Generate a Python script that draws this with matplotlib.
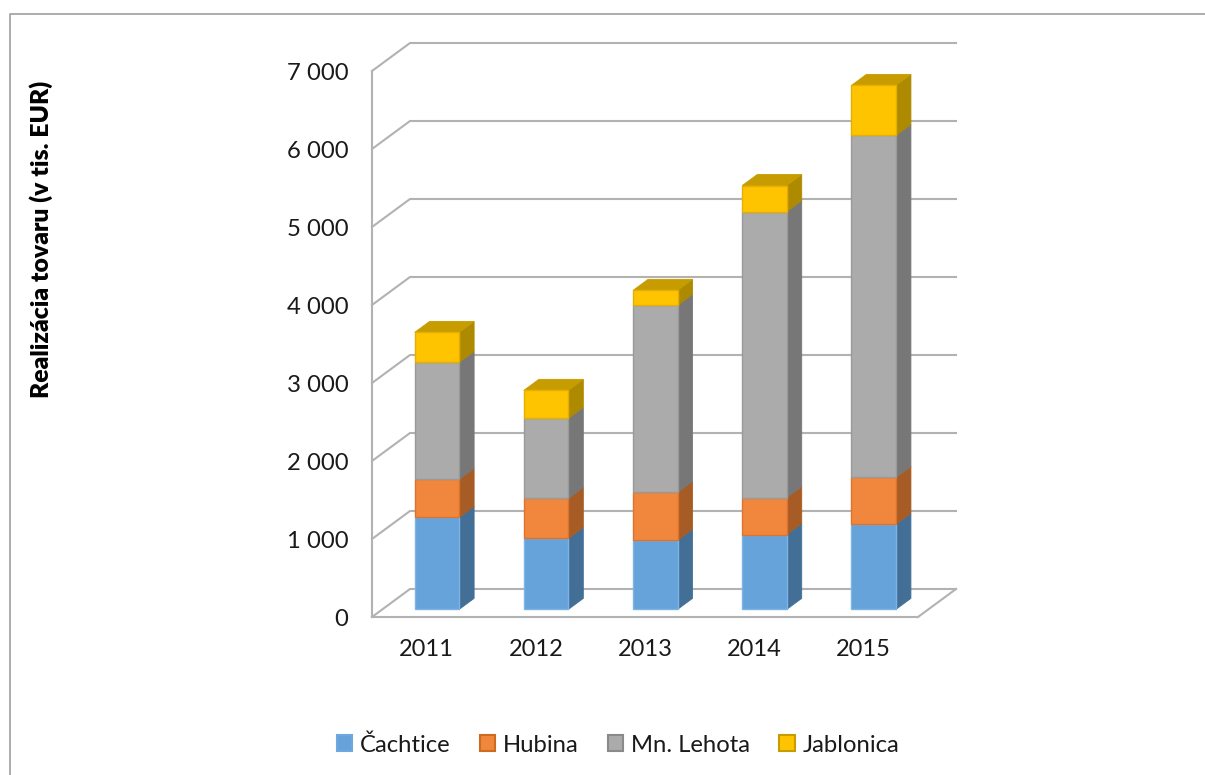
import numpy as np
import matplotlib
matplotlib.use("Agg")
import matplotlib.pyplot as plt
from matplotlib.patches import Polygon, Patch
from matplotlib.lines import Line2D

years = ["2011", "2012", "2013", "2014", "2015"]
series_names = ["Čachtice", "Hubina", "Mn. Lehota", "Jablonica"]
cachtice = [1180, 910, 885, 960, 1090]
hubina = [487, 513, 615, 474, 602]
lehota = [1500, 1026, 2398, 3667, 4385]
jablonica = [384, 359, 192, 333, 641]
y_ticks = [0, 1000, 2000, 3000, 4000, 5000, 6000, 7000]
y_labels = ["0", "1 000", "2 000", "3 000", "4 000", "5 000", "6 000", "7 000"]

W, H = 1205, 775
FONT = "Lato"
GRID = "#b2b2b2"
front_cols = ["#66a3da", "#f0873c", "#ababab", "#ffc400"]
edge_cols = ["#7db4e6", "#dc7430", "#9a9a9a", "#e6ae00"]
side_cols = ["#436f96", "#a65c24", "#777777", "#ae8a00"]
top_cols = ["#4f86b8", "#c06a2a", "#8c8c8c", "#c79c00"]
legend_edges = ["#6fa8dc", "#cf6a22", "#8a8a8a", "#c79c00"]

fig = plt.figure(figsize=(W / 100, H / 100), dpi=100, facecolor="white")
L, R, T, B = 372, 918, 71, 617
ax = fig.add_axes([L / W, 1 - B / H, (R - L) / W, (B - T) / H])
ax.set_xlim(-0.5, 4.5)
ax.set_ylim(0, 7000)
ax.patch.set_alpha(0)

# depth vector of the fake 3-D box, in data units
DX = 38 / ((R - L) / 5)
DY = 28 / ((B - T) / 7000)
BAR_W = 44.5 / ((R - L) / 5)
D0, D1 = 0.27, 0.665


def sk(x, y, d):
    return (x + d * DX, y + d * DY)


# walls and floor
for v in y_ticks:
    p0 = sk(-0.5, v, 0)
    p1 = sk(-0.5, v, 1)
    p2 = sk(4.5, v, 1)
    ax.plot([p0[0], p1[0], p2[0]], [p0[1], p1[1], p2[1]], color=GRID, lw=1.5,
            clip_on=False, zorder=1, solid_joinstyle="miter")
p1 = sk(4.5, 0, 0)
p2 = sk(4.5, 0, 1)
ax.plot([p1[0], p2[0]], [p1[1], p2[1]], color=GRID, lw=1.5, clip_on=False, zorder=1)

# stacked pseudo-3-D bars
stack = np.array([cachtice, hubina, lehota, jablonica], dtype=float)
z = 3
for i in range(len(years)):
    base = 0.0
    n = stack.shape[0]
    for s in range(n):
        top = base + stack[s, i]
        xl = i - BAR_W / 2
        xr = i + BAR_W / 2
        side = [sk(xr, base, D0), sk(xr, base, D1), sk(xr, top, D1), sk(xr, top, D0)]
        ax.add_patch(Polygon(side, closed=True, fc=side_cols[s], ec=side_cols[s], lw=0.6,
                             clip_on=False, zorder=z))
        if s == n - 1:
            roof = [sk(xl, top, D0), sk(xr, top, D0), sk(xr, top, D1), sk(xl, top, D1)]
            ax.add_patch(Polygon(roof, closed=True, fc=top_cols[s], ec=top_cols[s], lw=0.6,
                                 clip_on=False, zorder=z))
        front = [sk(xl, base, D0), sk(xr, base, D0), sk(xr, top, D0), sk(xl, top, D0)]
        ax.add_patch(Polygon(front, closed=True, fc=front_cols[s], ec=edge_cols[s], lw=1.0,
                             clip_on=False, zorder=z + 1))
        base = top
        z += 2

for sp in ("top", "right"):
    ax.spines[sp].set_visible(False)
for sp in ("left", "bottom"):
    ax.spines[sp].set_color(GRID)
    ax.spines[sp].set_linewidth(1.5)
ax.set_yticks(y_ticks)
ax.set_yticklabels(y_labels, fontfamily=FONT, fontsize=17.2, color="#1a1a1a")
ax.set_xticks(range(len(years)))
ax.set_xticklabels(years, fontfamily=FONT, fontsize=17, color="#1a1a1a")
ax.tick_params(axis="both", length=0)
ax.tick_params(axis="y", pad=17)
ax.tick_params(axis="x", pad=16)

fig.text(41.5 / W, 1 - 239 / H, "Realizácia tovaru (v tis. EUR)", rotation=90, ha="center",
         va="center", fontfamily=FONT, fontweight="heavy", fontsize=17.8, color="black")

handles = [Patch(facecolor=front_cols[k], edgecolor=legend_edges[k], linewidth=1.5)
           for k in range(4)]
fig.legend(handles, series_names, loc="center", bbox_to_anchor=(618 / W, 1 - 745 / H),
           ncol=4, frameon=False, prop={"family": FONT, "size": 17.2},
           handlelength=0.66, handleheight=0.66, handletextpad=0.33, columnspacing=1.2,
           labelcolor="#1a1a1a")

# outer chart frame, running off the image on the right and bottom
fig.add_artist(Line2D([10 / W, 10 / W, 1], [0, 1 - 13.5 / H, 1 - 13.5 / H], color="#a6a6a6",
                      lw=1.3, transform=fig.transFigure))

fig.savefig("out.png", dpi=100, facecolor="white")
